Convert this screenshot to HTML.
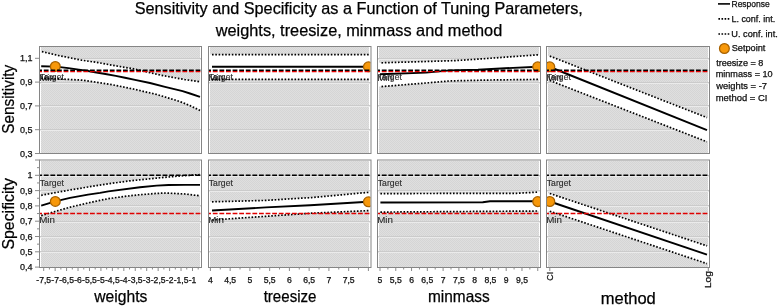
<!DOCTYPE html><html><head><meta charset="utf-8"><style>
html,body{margin:0;padding:0;background:#fff;width:778px;height:307px;overflow:hidden}
svg{display:block;will-change:transform}
text{font-family:"Liberation Sans", sans-serif;stroke:#000;stroke-width:0.25px;paint-order:stroke}
</style></head><body>
<svg width="778" height="307" viewBox="0 0 778 307">
<defs><pattern id="hatch" width="2" height="2" patternUnits="userSpaceOnUse"><rect width="2" height="2" fill="#dfdfdf"/><rect width="1" height="1" fill="#d5d5d5"/><rect x="1" y="1" width="1" height="1" fill="#d5d5d5"/></pattern>
<clipPath id="cp00"><rect x="40" y="47" width="161" height="106"/></clipPath>
<clipPath id="cp01"><rect x="209" y="47" width="161.5" height="106"/></clipPath>
<clipPath id="cp02"><rect x="378" y="47" width="162" height="106"/></clipPath>
<clipPath id="cp03"><rect x="547" y="47" width="162" height="106"/></clipPath>
<clipPath id="cp10"><rect x="40" y="160.5" width="161" height="106.5"/></clipPath>
<clipPath id="cp11"><rect x="209" y="160.5" width="161.5" height="106.5"/></clipPath>
<clipPath id="cp12"><rect x="378" y="160.5" width="162" height="106.5"/></clipPath>
<clipPath id="cp13"><rect x="547" y="160.5" width="162" height="106.5"/></clipPath>
</defs>
<rect width="778" height="307" fill="#fff"/>
<text x="134.67" y="14.00" font-size="16.5" fill="#000" textLength="448.20" lengthAdjust="spacingAndGlyphs">Sensitivity and Specificity as a Function of Tuning Parameters,</text>
<text x="215.74" y="35.70" font-size="16.5" fill="#000" textLength="286.50" lengthAdjust="spacingAndGlyphs">weights, treesize, minmass and method</text>
<text transform="translate(13.70,133.79) rotate(-90)" font-size="16.5" fill="#000" textLength="69.01" lengthAdjust="spacingAndGlyphs">Sensitivity</text>
<text transform="translate(13.70,249.51) rotate(-90)" font-size="16.5" fill="#000" textLength="71.34" lengthAdjust="spacingAndGlyphs">Specificity</text>
<rect x="40" y="47" width="161" height="106" fill="#fff"/>
<rect x="41" y="47" width="159" height="106" fill="url(#hatch)"/>
<g clip-path="url(#cp00)">
<rect x="40" y="58" width="161" height="1" fill="#cbcbcb"/>
<rect x="40" y="59" width="161" height="1" fill="#ebebeb"/>
<rect x="40" y="82" width="161" height="1" fill="#cbcbcb"/>
<rect x="40" y="83" width="161" height="1" fill="#ebebeb"/>
<rect x="40" y="105" width="161" height="1" fill="#cbcbcb"/>
<rect x="40" y="106" width="161" height="1" fill="#ebebeb"/>
<rect x="40" y="129" width="161" height="1" fill="#cbcbcb"/>
<rect x="40" y="130" width="161" height="1" fill="#ebebeb"/>
<polygon points="40.00,51.60 41.90,51.60 58.00,55.40 81.60,60.20 98.00,62.60 110.00,64.80 120.70,66.70 131.50,68.40 140.00,70.30 150.10,72.70 160.00,75.00 170.00,76.90 185.00,79.60 200.00,81.80 201.00,81.80 201.00,110.50 200.00,110.50 190.00,105.60 182.60,102.60 176.00,100.30 165.00,97.00 156.90,94.50 145.00,91.80 135.00,89.40 125.00,87.30 112.60,84.80 95.00,82.00 81.60,80.10 58.00,78.90 41.20,78.40 40.00,78.40" fill="#fff"/>
<text x="39.81" y="80.40" font-size="9" fill="#2a2a2a" textLength="24.05" lengthAdjust="spacingAndGlyphs" style="stroke-width:0.1px">Target</text>
<text x="39.19" y="80.90" font-size="9" fill="#2a2a2a" textLength="15.73" lengthAdjust="spacingAndGlyphs" style="stroke-width:0.1px">Min</text>
<polyline points="41.90,51.60 58.00,55.40 81.60,60.20 98.00,62.60 110.00,64.80 120.70,66.70 131.50,68.40 140.00,70.30 150.10,72.70 160.00,75.00 170.00,76.90 185.00,79.60 200.00,81.80" fill="none" stroke="#000" stroke-width="1.7" stroke-dasharray="1.6 1.7"/>
<polyline points="41.20,78.40 58.00,78.90 81.60,80.10 95.00,82.00 112.60,84.80 125.00,87.30 135.00,89.40 145.00,91.80 156.90,94.50 165.00,97.00 176.00,100.30 182.60,102.60 190.00,105.60 200.00,110.50" fill="none" stroke="#000" stroke-width="1.7" stroke-dasharray="1.6 1.7"/>
<polyline points="41.20,66.20 55.30,66.60 60.10,67.10 68.40,68.10 78.80,69.60 88.00,71.00 95.00,72.30 105.40,74.00 115.80,75.90 125.00,77.70 135.00,79.90 150.00,83.00 165.00,86.80 182.60,91.20 190.00,93.50 200.00,96.80" fill="none" stroke="#000" stroke-width="1.9" stroke-linejoin="round"/>
<circle cx="55.3" cy="66.4" r="4.9" fill="#f7980a" stroke="#a86200" stroke-width="1.25"/>
<line x1="39.5" x2="201" y1="70.20" y2="70.20" stroke="#000" stroke-width="1.4" stroke-dasharray="4.8 1.8" stroke-dashoffset="2.3"/>
<line x1="39.5" x2="201" y1="71.60" y2="71.60" stroke="#e00000" stroke-width="1.4" stroke-dasharray="4.8 1.8" stroke-dashoffset="2.3"/>
</g>
<rect x="39.5" y="46.5" width="162" height="107" fill="none" stroke="#858585" stroke-width="1"/>
<rect x="209" y="47" width="161.5" height="106" fill="#fff"/>
<rect x="210" y="47" width="159" height="106" fill="url(#hatch)"/>
<g clip-path="url(#cp01)">
<rect x="209" y="58" width="161.5" height="1" fill="#cbcbcb"/>
<rect x="209" y="59" width="161.5" height="1" fill="#ebebeb"/>
<rect x="209" y="82" width="161.5" height="1" fill="#cbcbcb"/>
<rect x="209" y="83" width="161.5" height="1" fill="#ebebeb"/>
<rect x="209" y="105" width="161.5" height="1" fill="#cbcbcb"/>
<rect x="209" y="106" width="161.5" height="1" fill="#ebebeb"/>
<rect x="209" y="129" width="161.5" height="1" fill="#cbcbcb"/>
<rect x="209" y="130" width="161.5" height="1" fill="#ebebeb"/>
<polygon points="209.00,54.60 212.00,54.60 369.00,54.60 370.50,54.60 370.50,79.30 369.00,79.30 212.00,79.30 209.00,79.30" fill="#fff"/>
<text x="208.81" y="80.40" font-size="9" fill="#2a2a2a" textLength="24.05" lengthAdjust="spacingAndGlyphs" style="stroke-width:0.1px">Target</text>
<text x="208.19" y="80.90" font-size="9" fill="#2a2a2a" textLength="15.73" lengthAdjust="spacingAndGlyphs" style="stroke-width:0.1px">Min</text>
<polyline points="212.00,54.60 369.00,54.60" fill="none" stroke="#000" stroke-width="1.7" stroke-dasharray="1.6 1.7"/>
<polyline points="212.00,79.30 369.00,79.30" fill="none" stroke="#000" stroke-width="1.7" stroke-dasharray="1.6 1.7"/>
<polyline points="212.00,66.80 369.00,66.80" fill="none" stroke="#000" stroke-width="1.9" stroke-linejoin="round"/>
<circle cx="368.4" cy="66.8" r="4.9" fill="#f7980a" stroke="#a86200" stroke-width="1.25"/>
<line x1="208.5" x2="370.5" y1="70.20" y2="70.20" stroke="#000" stroke-width="1.4" stroke-dasharray="4.8 1.8" stroke-dashoffset="2.3"/>
<line x1="208.5" x2="370.5" y1="71.60" y2="71.60" stroke="#e00000" stroke-width="1.4" stroke-dasharray="4.8 1.8" stroke-dashoffset="2.3"/>
</g>
<rect x="208.5" y="46.5" width="162.5" height="107" fill="none" stroke="#858585" stroke-width="1"/>
<rect x="378" y="47" width="162" height="106" fill="#fff"/>
<rect x="379" y="47" width="160" height="106" fill="url(#hatch)"/>
<g clip-path="url(#cp02)">
<rect x="378" y="58" width="162" height="1" fill="#cbcbcb"/>
<rect x="378" y="59" width="162" height="1" fill="#ebebeb"/>
<rect x="378" y="82" width="162" height="1" fill="#cbcbcb"/>
<rect x="378" y="83" width="162" height="1" fill="#ebebeb"/>
<rect x="378" y="105" width="162" height="1" fill="#cbcbcb"/>
<rect x="378" y="106" width="162" height="1" fill="#ebebeb"/>
<rect x="378" y="129" width="162" height="1" fill="#cbcbcb"/>
<rect x="378" y="130" width="162" height="1" fill="#ebebeb"/>
<polygon points="378.00,62.80 381.50,62.80 426.00,61.50 455.00,60.60 480.00,59.00 538.00,54.80 540.00,54.80 540.00,79.40 538.00,79.40 490.00,80.00 450.00,80.90 426.00,83.00 381.50,86.60 378.00,86.60" fill="#fff"/>
<text x="377.81" y="80.40" font-size="9" fill="#2a2a2a" textLength="24.05" lengthAdjust="spacingAndGlyphs" style="stroke-width:0.1px">Target</text>
<text x="377.19" y="80.90" font-size="9" fill="#2a2a2a" textLength="15.73" lengthAdjust="spacingAndGlyphs" style="stroke-width:0.1px">Min</text>
<polyline points="381.50,62.80 426.00,61.50 455.00,60.60 480.00,59.00 538.00,54.80" fill="none" stroke="#000" stroke-width="1.7" stroke-dasharray="1.6 1.7"/>
<polyline points="381.50,86.60 426.00,83.00 450.00,80.90 490.00,80.00 538.00,79.40" fill="none" stroke="#000" stroke-width="1.7" stroke-dasharray="1.6 1.7"/>
<polyline points="380.00,74.30 426.00,72.60 450.00,70.40 478.00,69.70 505.00,68.30 538.00,66.80" fill="none" stroke="#000" stroke-width="1.9" stroke-linejoin="round"/>
<circle cx="537.7" cy="66.8" r="4.9" fill="#f7980a" stroke="#a86200" stroke-width="1.25"/>
<line x1="377.5" x2="540" y1="70.20" y2="70.20" stroke="#000" stroke-width="1.4" stroke-dasharray="4.8 1.8" stroke-dashoffset="2.3"/>
<line x1="377.5" x2="540" y1="71.60" y2="71.60" stroke="#e00000" stroke-width="1.4" stroke-dasharray="4.8 1.8" stroke-dashoffset="2.3"/>
</g>
<rect x="377.5" y="46.5" width="163" height="107" fill="none" stroke="#858585" stroke-width="1"/>
<rect x="547" y="47" width="162" height="106" fill="#fff"/>
<rect x="548" y="47" width="160" height="106" fill="url(#hatch)"/>
<g clip-path="url(#cp03)">
<rect x="547" y="58" width="162" height="1" fill="#cbcbcb"/>
<rect x="547" y="59" width="162" height="1" fill="#ebebeb"/>
<rect x="547" y="82" width="162" height="1" fill="#cbcbcb"/>
<rect x="547" y="83" width="162" height="1" fill="#ebebeb"/>
<rect x="547" y="105" width="162" height="1" fill="#cbcbcb"/>
<rect x="547" y="106" width="162" height="1" fill="#ebebeb"/>
<rect x="547" y="129" width="162" height="1" fill="#cbcbcb"/>
<rect x="547" y="130" width="162" height="1" fill="#ebebeb"/>
<polygon points="547.00,56.10 549.80,56.10 707.00,117.60 709.00,117.60 709.00,141.80 707.00,141.80 549.80,80.50 547.00,80.50" fill="#fff"/>
<text x="546.81" y="80.40" font-size="9" fill="#2a2a2a" textLength="24.05" lengthAdjust="spacingAndGlyphs" style="stroke-width:0.1px">Target</text>
<text x="546.19" y="80.90" font-size="9" fill="#2a2a2a" textLength="15.73" lengthAdjust="spacingAndGlyphs" style="stroke-width:0.1px">Min</text>
<polyline points="549.80,56.10 707.00,117.60" fill="none" stroke="#000" stroke-width="1.7" stroke-dasharray="1.6 1.7"/>
<polyline points="549.80,80.50 707.00,141.80" fill="none" stroke="#000" stroke-width="1.7" stroke-dasharray="1.6 1.7"/>
<polyline points="549.80,67.00 707.00,130.20" fill="none" stroke="#000" stroke-width="1.9" stroke-linejoin="round"/>
<circle cx="549.8" cy="66.8" r="4.9" fill="#f7980a" stroke="#a86200" stroke-width="1.25"/>
<line x1="546.5" x2="709" y1="70.20" y2="70.20" stroke="#000" stroke-width="1.4" stroke-dasharray="4.8 1.8" stroke-dashoffset="2.3"/>
<line x1="546.5" x2="709" y1="71.60" y2="71.60" stroke="#e00000" stroke-width="1.4" stroke-dasharray="4.8 1.8" stroke-dashoffset="2.3"/>
</g>
<rect x="546.5" y="46.5" width="163" height="107" fill="none" stroke="#858585" stroke-width="1"/>
<rect x="40" y="160.5" width="161" height="106.5" fill="#fff"/>
<rect x="41" y="161" width="159" height="106" fill="url(#hatch)"/>
<g clip-path="url(#cp10)">
<rect x="40" y="175" width="161" height="1" fill="#cbcbcb"/>
<rect x="40" y="176" width="161" height="1" fill="#ebebeb"/>
<rect x="40" y="190" width="161" height="1" fill="#cbcbcb"/>
<rect x="40" y="191" width="161" height="1" fill="#ebebeb"/>
<rect x="40" y="205" width="161" height="1" fill="#cbcbcb"/>
<rect x="40" y="206" width="161" height="1" fill="#ebebeb"/>
<rect x="40" y="221" width="161" height="1" fill="#cbcbcb"/>
<rect x="40" y="222" width="161" height="1" fill="#ebebeb"/>
<rect x="40" y="236" width="161" height="1" fill="#cbcbcb"/>
<rect x="40" y="237" width="161" height="1" fill="#ebebeb"/>
<rect x="40" y="251" width="161" height="1" fill="#cbcbcb"/>
<rect x="40" y="252" width="161" height="1" fill="#ebebeb"/>
<polygon points="40.00,195.30 41.20,195.30 55.00,192.70 70.00,190.00 88.00,187.00 108.30,183.80 130.00,180.80 156.60,178.10 180.70,175.90 200.00,174.60 201.00,174.60 201.00,195.80 200.00,195.80 185.00,194.00 166.00,193.00 156.60,193.40 140.00,194.70 125.00,196.30 108.30,198.70 100.00,200.30 88.00,203.00 70.00,207.20 55.00,211.50 41.20,215.60 40.00,215.60" fill="#fff"/>
<text x="39.81" y="185.50" font-size="9" fill="#2a2a2a" textLength="24.05" lengthAdjust="spacingAndGlyphs" style="stroke-width:0.1px">Target</text>
<text x="39.19" y="222.85" font-size="9" fill="#2a2a2a" textLength="15.73" lengthAdjust="spacingAndGlyphs" style="stroke-width:0.1px">Min</text>
<polyline points="41.20,195.30 55.00,192.70 70.00,190.00 88.00,187.00 108.30,183.80 130.00,180.80 156.60,178.10 180.70,175.90 200.00,174.60" fill="none" stroke="#000" stroke-width="1.7" stroke-dasharray="1.6 1.7"/>
<polyline points="41.20,215.60 55.00,211.50 70.00,207.20 88.00,203.00 100.00,200.30 108.30,198.70 125.00,196.30 140.00,194.70 156.60,193.40 166.00,193.00 185.00,194.00 200.00,195.80" fill="none" stroke="#000" stroke-width="1.7" stroke-dasharray="1.6 1.7"/>
<polyline points="41.20,205.60 55.30,201.40 70.00,197.90 88.00,194.60 100.00,192.90 108.30,191.40 140.00,187.30 156.60,185.60 168.60,185.00 185.00,184.90 200.00,184.90" fill="none" stroke="#000" stroke-width="1.9" stroke-linejoin="round"/>
<circle cx="55.3" cy="201.4" r="4.9" fill="#f7980a" stroke="#a86200" stroke-width="1.25"/>
<line x1="39.5" x2="201" y1="175.30" y2="175.30" stroke="#000" stroke-width="1.4" stroke-dasharray="4.8 1.8" stroke-dashoffset="2.3"/>
<line x1="39.5" x2="201" y1="213.55" y2="213.55" stroke="#e00000" stroke-width="1.4" stroke-dasharray="4.8 1.8" stroke-dashoffset="2.3"/>
</g>
<rect x="39.5" y="160.0" width="162" height="107.5" fill="none" stroke="#858585" stroke-width="1"/>
<rect x="209" y="160.5" width="161.5" height="106.5" fill="#fff"/>
<rect x="210" y="161" width="159" height="106" fill="url(#hatch)"/>
<g clip-path="url(#cp11)">
<rect x="209" y="175" width="161.5" height="1" fill="#cbcbcb"/>
<rect x="209" y="176" width="161.5" height="1" fill="#ebebeb"/>
<rect x="209" y="190" width="161.5" height="1" fill="#cbcbcb"/>
<rect x="209" y="191" width="161.5" height="1" fill="#ebebeb"/>
<rect x="209" y="205" width="161.5" height="1" fill="#cbcbcb"/>
<rect x="209" y="206" width="161.5" height="1" fill="#ebebeb"/>
<rect x="209" y="221" width="161.5" height="1" fill="#cbcbcb"/>
<rect x="209" y="222" width="161.5" height="1" fill="#ebebeb"/>
<rect x="209" y="236" width="161.5" height="1" fill="#cbcbcb"/>
<rect x="209" y="237" width="161.5" height="1" fill="#ebebeb"/>
<rect x="209" y="251" width="161.5" height="1" fill="#cbcbcb"/>
<rect x="209" y="252" width="161.5" height="1" fill="#ebebeb"/>
<polygon points="209.00,201.80 212.00,201.80 266.00,200.40 289.40,198.90 311.50,197.60 369.00,192.30 370.50,192.30 370.50,210.60 369.00,210.60 311.50,213.20 266.00,216.30 212.00,220.00 209.00,220.00" fill="#fff"/>
<text x="208.81" y="185.50" font-size="9" fill="#2a2a2a" textLength="24.05" lengthAdjust="spacingAndGlyphs" style="stroke-width:0.1px">Target</text>
<text x="208.19" y="222.85" font-size="9" fill="#2a2a2a" textLength="15.73" lengthAdjust="spacingAndGlyphs" style="stroke-width:0.1px">Min</text>
<polyline points="212.00,201.80 266.00,200.40 289.40,198.90 311.50,197.60 369.00,192.30" fill="none" stroke="#000" stroke-width="1.7" stroke-dasharray="1.6 1.7"/>
<polyline points="212.00,220.00 266.00,216.30 311.50,213.20 369.00,210.60" fill="none" stroke="#000" stroke-width="1.7" stroke-dasharray="1.6 1.7"/>
<polyline points="212.00,210.50 266.00,207.40 310.00,205.20 368.00,201.80" fill="none" stroke="#000" stroke-width="1.9" stroke-linejoin="round"/>
<circle cx="368.4" cy="201.8" r="4.9" fill="#f7980a" stroke="#a86200" stroke-width="1.25"/>
<line x1="208.5" x2="370.5" y1="175.30" y2="175.30" stroke="#000" stroke-width="1.4" stroke-dasharray="4.8 1.8" stroke-dashoffset="2.3"/>
<line x1="208.5" x2="370.5" y1="213.55" y2="213.55" stroke="#e00000" stroke-width="1.4" stroke-dasharray="4.8 1.8" stroke-dashoffset="2.3"/>
</g>
<rect x="208.5" y="160.0" width="162.5" height="107.5" fill="none" stroke="#858585" stroke-width="1"/>
<rect x="378" y="160.5" width="162" height="106.5" fill="#fff"/>
<rect x="379" y="161" width="160" height="106" fill="url(#hatch)"/>
<g clip-path="url(#cp12)">
<rect x="378" y="175" width="162" height="1" fill="#cbcbcb"/>
<rect x="378" y="176" width="162" height="1" fill="#ebebeb"/>
<rect x="378" y="190" width="162" height="1" fill="#cbcbcb"/>
<rect x="378" y="191" width="162" height="1" fill="#ebebeb"/>
<rect x="378" y="205" width="162" height="1" fill="#cbcbcb"/>
<rect x="378" y="206" width="162" height="1" fill="#ebebeb"/>
<rect x="378" y="221" width="162" height="1" fill="#cbcbcb"/>
<rect x="378" y="222" width="162" height="1" fill="#ebebeb"/>
<rect x="378" y="236" width="162" height="1" fill="#cbcbcb"/>
<rect x="378" y="237" width="162" height="1" fill="#ebebeb"/>
<rect x="378" y="251" width="162" height="1" fill="#cbcbcb"/>
<rect x="378" y="252" width="162" height="1" fill="#ebebeb"/>
<polygon points="378.00,193.60 380.40,193.60 516.60,193.30 538.30,192.10 540.00,192.10 540.00,211.00 538.30,211.00 380.40,212.10 378.00,212.10" fill="#fff"/>
<text x="377.81" y="185.50" font-size="9" fill="#2a2a2a" textLength="24.05" lengthAdjust="spacingAndGlyphs" style="stroke-width:0.1px">Target</text>
<text x="377.19" y="222.85" font-size="9" fill="#2a2a2a" textLength="15.73" lengthAdjust="spacingAndGlyphs" style="stroke-width:0.1px">Min</text>
<polyline points="380.40,193.60 516.60,193.30 538.30,192.10" fill="none" stroke="#000" stroke-width="1.7" stroke-dasharray="1.6 1.7"/>
<polyline points="380.40,212.10 538.30,211.00" fill="none" stroke="#000" stroke-width="1.7" stroke-dasharray="1.6 1.7"/>
<polyline points="380.40,202.50 482.80,202.30 490.00,201.30 538.00,201.30" fill="none" stroke="#000" stroke-width="1.9" stroke-linejoin="round"/>
<circle cx="537.7" cy="201.6" r="4.9" fill="#f7980a" stroke="#a86200" stroke-width="1.25"/>
<line x1="377.5" x2="540" y1="175.30" y2="175.30" stroke="#000" stroke-width="1.4" stroke-dasharray="4.8 1.8" stroke-dashoffset="2.3"/>
<line x1="377.5" x2="540" y1="213.55" y2="213.55" stroke="#e00000" stroke-width="1.4" stroke-dasharray="4.8 1.8" stroke-dashoffset="2.3"/>
</g>
<rect x="377.5" y="160.0" width="163" height="107.5" fill="none" stroke="#858585" stroke-width="1"/>
<rect x="547" y="160.5" width="162" height="106.5" fill="#fff"/>
<rect x="548" y="161" width="160" height="106" fill="url(#hatch)"/>
<g clip-path="url(#cp13)">
<rect x="547" y="175" width="162" height="1" fill="#cbcbcb"/>
<rect x="547" y="176" width="162" height="1" fill="#ebebeb"/>
<rect x="547" y="190" width="162" height="1" fill="#cbcbcb"/>
<rect x="547" y="191" width="162" height="1" fill="#ebebeb"/>
<rect x="547" y="205" width="162" height="1" fill="#cbcbcb"/>
<rect x="547" y="206" width="162" height="1" fill="#ebebeb"/>
<rect x="547" y="221" width="162" height="1" fill="#cbcbcb"/>
<rect x="547" y="222" width="162" height="1" fill="#ebebeb"/>
<rect x="547" y="236" width="162" height="1" fill="#cbcbcb"/>
<rect x="547" y="237" width="162" height="1" fill="#ebebeb"/>
<rect x="547" y="251" width="162" height="1" fill="#cbcbcb"/>
<rect x="547" y="252" width="162" height="1" fill="#ebebeb"/>
<polygon points="547.00,193.50 549.80,193.50 707.00,245.90 709.00,245.90 709.00,263.60 707.00,263.60 549.80,211.20 547.00,211.20" fill="#fff"/>
<text x="546.81" y="185.50" font-size="9" fill="#2a2a2a" textLength="24.05" lengthAdjust="spacingAndGlyphs" style="stroke-width:0.1px">Target</text>
<text x="546.19" y="222.85" font-size="9" fill="#2a2a2a" textLength="15.73" lengthAdjust="spacingAndGlyphs" style="stroke-width:0.1px">Min</text>
<polyline points="549.80,193.50 707.00,245.90" fill="none" stroke="#000" stroke-width="1.7" stroke-dasharray="1.6 1.7"/>
<polyline points="549.80,211.20 707.00,263.60" fill="none" stroke="#000" stroke-width="1.7" stroke-dasharray="1.6 1.7"/>
<polyline points="549.80,201.50 707.00,254.70" fill="none" stroke="#000" stroke-width="1.9" stroke-linejoin="round"/>
<circle cx="549.8" cy="201.5" r="4.9" fill="#f7980a" stroke="#a86200" stroke-width="1.25"/>
<line x1="546.5" x2="709" y1="175.30" y2="175.30" stroke="#000" stroke-width="1.4" stroke-dasharray="4.8 1.8" stroke-dashoffset="2.3"/>
<line x1="546.5" x2="709" y1="213.55" y2="213.55" stroke="#e00000" stroke-width="1.4" stroke-dasharray="4.8 1.8" stroke-dashoffset="2.3"/>
</g>
<rect x="546.5" y="160.0" width="163" height="107.5" fill="none" stroke="#858585" stroke-width="1"/>
<line x1="35" x2="39.5" y1="58.30" y2="58.30" stroke="#8a8a8a" stroke-width="1"/>
<text x="32.5" y="61.40" font-size="9" text-anchor="end" fill="#111">1,1</text>
<line x1="35" x2="39.5" y1="82.10" y2="82.10" stroke="#8a8a8a" stroke-width="1"/>
<text x="32.5" y="85.20" font-size="9" text-anchor="end" fill="#111">0,9</text>
<line x1="35" x2="39.5" y1="105.90" y2="105.90" stroke="#8a8a8a" stroke-width="1"/>
<text x="32.5" y="109.00" font-size="9" text-anchor="end" fill="#111">0,7</text>
<line x1="35" x2="39.5" y1="129.70" y2="129.70" stroke="#8a8a8a" stroke-width="1"/>
<text x="32.5" y="132.80" font-size="9" text-anchor="end" fill="#111">0,5</text>
<line x1="35" x2="39.5" y1="153.50" y2="153.50" stroke="#8a8a8a" stroke-width="1"/>
<text x="32.5" y="156.60" font-size="9" text-anchor="end" fill="#111">0,3</text>
<line x1="35" x2="39.5" y1="160.00" y2="160.00" stroke="#8a8a8a" stroke-width="1"/>
<line x1="35" x2="39.5" y1="175.30" y2="175.30" stroke="#8a8a8a" stroke-width="1"/>
<text x="32.5" y="178.40" font-size="9" text-anchor="end" fill="#111">1</text>
<line x1="35" x2="39.5" y1="190.60" y2="190.60" stroke="#8a8a8a" stroke-width="1"/>
<text x="32.5" y="193.70" font-size="9" text-anchor="end" fill="#111">0,9</text>
<line x1="35" x2="39.5" y1="205.90" y2="205.90" stroke="#8a8a8a" stroke-width="1"/>
<text x="32.5" y="209.00" font-size="9" text-anchor="end" fill="#111">0,8</text>
<line x1="35" x2="39.5" y1="221.20" y2="221.20" stroke="#8a8a8a" stroke-width="1"/>
<text x="32.5" y="224.30" font-size="9" text-anchor="end" fill="#111">0,7</text>
<line x1="35" x2="39.5" y1="236.50" y2="236.50" stroke="#8a8a8a" stroke-width="1"/>
<text x="32.5" y="239.60" font-size="9" text-anchor="end" fill="#111">0,6</text>
<line x1="35" x2="39.5" y1="251.80" y2="251.80" stroke="#8a8a8a" stroke-width="1"/>
<text x="32.5" y="254.90" font-size="9" text-anchor="end" fill="#111">0,5</text>
<line x1="35" x2="39.5" y1="267.10" y2="267.10" stroke="#8a8a8a" stroke-width="1"/>
<text x="32.5" y="270.20" font-size="9" text-anchor="end" fill="#111">0,4</text>
<line x1="37" x2="39.5" y1="167.65" y2="167.65" stroke="#8a8a8a" stroke-width="1"/>
<line x1="37" x2="39.5" y1="182.95" y2="182.95" stroke="#8a8a8a" stroke-width="1"/>
<line x1="37" x2="39.5" y1="198.25" y2="198.25" stroke="#8a8a8a" stroke-width="1"/>
<line x1="37" x2="39.5" y1="213.55" y2="213.55" stroke="#8a8a8a" stroke-width="1"/>
<line x1="37" x2="39.5" y1="228.85" y2="228.85" stroke="#8a8a8a" stroke-width="1"/>
<line x1="37" x2="39.5" y1="244.15" y2="244.15" stroke="#8a8a8a" stroke-width="1"/>
<line x1="37" x2="39.5" y1="259.45" y2="259.45" stroke="#8a8a8a" stroke-width="1"/>
<line x1="43.70" x2="43.70" y1="267.5" y2="271.0" stroke="#8a8a8a" stroke-width="1"/>
<text x="43.70" y="282.8" font-size="8.6" text-anchor="middle" fill="#111">-7,5</text>
<line x1="49.42" x2="49.42" y1="267.5" y2="269.5" stroke="#8a8a8a" stroke-width="1"/>
<line x1="55.15" x2="55.15" y1="267.5" y2="271.0" stroke="#8a8a8a" stroke-width="1"/>
<text x="55.15" y="282.8" font-size="8.6" text-anchor="middle" fill="#111">-7</text>
<line x1="60.87" x2="60.87" y1="267.5" y2="269.5" stroke="#8a8a8a" stroke-width="1"/>
<line x1="66.59" x2="66.59" y1="267.5" y2="271.0" stroke="#8a8a8a" stroke-width="1"/>
<text x="66.59" y="282.8" font-size="8.6" text-anchor="middle" fill="#111">-6,5</text>
<line x1="72.31" x2="72.31" y1="267.5" y2="269.5" stroke="#8a8a8a" stroke-width="1"/>
<line x1="78.03" x2="78.03" y1="267.5" y2="271.0" stroke="#8a8a8a" stroke-width="1"/>
<text x="78.03" y="282.8" font-size="8.6" text-anchor="middle" fill="#111">-6</text>
<line x1="83.76" x2="83.76" y1="267.5" y2="269.5" stroke="#8a8a8a" stroke-width="1"/>
<line x1="89.48" x2="89.48" y1="267.5" y2="271.0" stroke="#8a8a8a" stroke-width="1"/>
<text x="89.48" y="282.8" font-size="8.6" text-anchor="middle" fill="#111">-5,5</text>
<line x1="95.20" x2="95.20" y1="267.5" y2="269.5" stroke="#8a8a8a" stroke-width="1"/>
<line x1="100.93" x2="100.93" y1="267.5" y2="271.0" stroke="#8a8a8a" stroke-width="1"/>
<text x="100.93" y="282.8" font-size="8.6" text-anchor="middle" fill="#111">-5</text>
<line x1="106.65" x2="106.65" y1="267.5" y2="269.5" stroke="#8a8a8a" stroke-width="1"/>
<line x1="112.37" x2="112.37" y1="267.5" y2="271.0" stroke="#8a8a8a" stroke-width="1"/>
<text x="112.37" y="282.8" font-size="8.6" text-anchor="middle" fill="#111">-4,5</text>
<line x1="118.09" x2="118.09" y1="267.5" y2="269.5" stroke="#8a8a8a" stroke-width="1"/>
<line x1="123.82" x2="123.82" y1="267.5" y2="271.0" stroke="#8a8a8a" stroke-width="1"/>
<text x="123.82" y="282.8" font-size="8.6" text-anchor="middle" fill="#111">-4</text>
<line x1="129.54" x2="129.54" y1="267.5" y2="269.5" stroke="#8a8a8a" stroke-width="1"/>
<line x1="135.26" x2="135.26" y1="267.5" y2="271.0" stroke="#8a8a8a" stroke-width="1"/>
<text x="135.26" y="282.8" font-size="8.6" text-anchor="middle" fill="#111">-3,5</text>
<line x1="140.98" x2="140.98" y1="267.5" y2="269.5" stroke="#8a8a8a" stroke-width="1"/>
<line x1="146.70" x2="146.70" y1="267.5" y2="271.0" stroke="#8a8a8a" stroke-width="1"/>
<text x="146.70" y="282.8" font-size="8.6" text-anchor="middle" fill="#111">-3</text>
<line x1="152.43" x2="152.43" y1="267.5" y2="269.5" stroke="#8a8a8a" stroke-width="1"/>
<line x1="158.15" x2="158.15" y1="267.5" y2="271.0" stroke="#8a8a8a" stroke-width="1"/>
<text x="158.15" y="282.8" font-size="8.6" text-anchor="middle" fill="#111">-2,5</text>
<line x1="163.87" x2="163.87" y1="267.5" y2="269.5" stroke="#8a8a8a" stroke-width="1"/>
<line x1="169.60" x2="169.60" y1="267.5" y2="271.0" stroke="#8a8a8a" stroke-width="1"/>
<text x="169.60" y="282.8" font-size="8.6" text-anchor="middle" fill="#111">-2</text>
<line x1="175.32" x2="175.32" y1="267.5" y2="269.5" stroke="#8a8a8a" stroke-width="1"/>
<line x1="181.04" x2="181.04" y1="267.5" y2="271.0" stroke="#8a8a8a" stroke-width="1"/>
<text x="181.04" y="282.8" font-size="8.6" text-anchor="middle" fill="#111">-1,5</text>
<line x1="186.76" x2="186.76" y1="267.5" y2="269.5" stroke="#8a8a8a" stroke-width="1"/>
<line x1="192.49" x2="192.49" y1="267.5" y2="271.0" stroke="#8a8a8a" stroke-width="1"/>
<text x="192.49" y="282.8" font-size="8.6" text-anchor="middle" fill="#111">-1</text>
<line x1="198.21" x2="198.21" y1="267.5" y2="269.5" stroke="#8a8a8a" stroke-width="1"/>
<line x1="210.40" x2="210.40" y1="267.5" y2="271.0" stroke="#8a8a8a" stroke-width="1"/>
<text x="210.40" y="282.8" font-size="8.6" text-anchor="middle" fill="#111">4</text>
<line x1="220.28" x2="220.28" y1="267.5" y2="269.5" stroke="#8a8a8a" stroke-width="1"/>
<line x1="230.15" x2="230.15" y1="267.5" y2="271.0" stroke="#8a8a8a" stroke-width="1"/>
<text x="230.15" y="282.8" font-size="8.6" text-anchor="middle" fill="#111">4,5</text>
<line x1="240.03" x2="240.03" y1="267.5" y2="269.5" stroke="#8a8a8a" stroke-width="1"/>
<line x1="249.90" x2="249.90" y1="267.5" y2="271.0" stroke="#8a8a8a" stroke-width="1"/>
<text x="249.90" y="282.8" font-size="8.6" text-anchor="middle" fill="#111">5</text>
<line x1="259.77" x2="259.77" y1="267.5" y2="269.5" stroke="#8a8a8a" stroke-width="1"/>
<line x1="269.65" x2="269.65" y1="267.5" y2="271.0" stroke="#8a8a8a" stroke-width="1"/>
<text x="269.65" y="282.8" font-size="8.6" text-anchor="middle" fill="#111">5,5</text>
<line x1="279.52" x2="279.52" y1="267.5" y2="269.5" stroke="#8a8a8a" stroke-width="1"/>
<line x1="289.40" x2="289.40" y1="267.5" y2="271.0" stroke="#8a8a8a" stroke-width="1"/>
<text x="289.40" y="282.8" font-size="8.6" text-anchor="middle" fill="#111">6</text>
<line x1="299.27" x2="299.27" y1="267.5" y2="269.5" stroke="#8a8a8a" stroke-width="1"/>
<line x1="309.15" x2="309.15" y1="267.5" y2="271.0" stroke="#8a8a8a" stroke-width="1"/>
<text x="309.15" y="282.8" font-size="8.6" text-anchor="middle" fill="#111">6,5</text>
<line x1="319.02" x2="319.02" y1="267.5" y2="269.5" stroke="#8a8a8a" stroke-width="1"/>
<line x1="328.90" x2="328.90" y1="267.5" y2="271.0" stroke="#8a8a8a" stroke-width="1"/>
<text x="328.90" y="282.8" font-size="8.6" text-anchor="middle" fill="#111">7</text>
<line x1="338.77" x2="338.77" y1="267.5" y2="269.5" stroke="#8a8a8a" stroke-width="1"/>
<line x1="348.65" x2="348.65" y1="267.5" y2="271.0" stroke="#8a8a8a" stroke-width="1"/>
<text x="348.65" y="282.8" font-size="8.6" text-anchor="middle" fill="#111">7,5</text>
<line x1="358.52" x2="358.52" y1="267.5" y2="269.5" stroke="#8a8a8a" stroke-width="1"/>
<line x1="368.40" x2="368.40" y1="267.5" y2="271.0" stroke="#8a8a8a" stroke-width="1"/>
<line x1="380.00" x2="380.00" y1="267.5" y2="271.0" stroke="#8a8a8a" stroke-width="1"/>
<text x="380.00" y="282.8" font-size="8.6" text-anchor="middle" fill="#111">5</text>
<line x1="387.89" x2="387.89" y1="267.5" y2="269.5" stroke="#8a8a8a" stroke-width="1"/>
<line x1="395.77" x2="395.77" y1="267.5" y2="271.0" stroke="#8a8a8a" stroke-width="1"/>
<text x="395.77" y="282.8" font-size="8.6" text-anchor="middle" fill="#111">5,5</text>
<line x1="403.66" x2="403.66" y1="267.5" y2="269.5" stroke="#8a8a8a" stroke-width="1"/>
<line x1="411.55" x2="411.55" y1="267.5" y2="271.0" stroke="#8a8a8a" stroke-width="1"/>
<text x="411.55" y="282.8" font-size="8.6" text-anchor="middle" fill="#111">6</text>
<line x1="419.44" x2="419.44" y1="267.5" y2="269.5" stroke="#8a8a8a" stroke-width="1"/>
<line x1="427.32" x2="427.32" y1="267.5" y2="271.0" stroke="#8a8a8a" stroke-width="1"/>
<text x="427.32" y="282.8" font-size="8.6" text-anchor="middle" fill="#111">6,5</text>
<line x1="435.21" x2="435.21" y1="267.5" y2="269.5" stroke="#8a8a8a" stroke-width="1"/>
<line x1="443.10" x2="443.10" y1="267.5" y2="271.0" stroke="#8a8a8a" stroke-width="1"/>
<text x="443.10" y="282.8" font-size="8.6" text-anchor="middle" fill="#111">7</text>
<line x1="450.99" x2="450.99" y1="267.5" y2="269.5" stroke="#8a8a8a" stroke-width="1"/>
<line x1="458.88" x2="458.88" y1="267.5" y2="271.0" stroke="#8a8a8a" stroke-width="1"/>
<text x="458.88" y="282.8" font-size="8.6" text-anchor="middle" fill="#111">7,5</text>
<line x1="466.76" x2="466.76" y1="267.5" y2="269.5" stroke="#8a8a8a" stroke-width="1"/>
<line x1="474.65" x2="474.65" y1="267.5" y2="271.0" stroke="#8a8a8a" stroke-width="1"/>
<text x="474.65" y="282.8" font-size="8.6" text-anchor="middle" fill="#111">8</text>
<line x1="482.54" x2="482.54" y1="267.5" y2="269.5" stroke="#8a8a8a" stroke-width="1"/>
<line x1="490.43" x2="490.43" y1="267.5" y2="271.0" stroke="#8a8a8a" stroke-width="1"/>
<text x="490.43" y="282.8" font-size="8.6" text-anchor="middle" fill="#111">8,5</text>
<line x1="498.31" x2="498.31" y1="267.5" y2="269.5" stroke="#8a8a8a" stroke-width="1"/>
<line x1="506.20" x2="506.20" y1="267.5" y2="271.0" stroke="#8a8a8a" stroke-width="1"/>
<text x="506.20" y="282.8" font-size="8.6" text-anchor="middle" fill="#111">9</text>
<line x1="514.09" x2="514.09" y1="267.5" y2="269.5" stroke="#8a8a8a" stroke-width="1"/>
<line x1="521.98" x2="521.98" y1="267.5" y2="271.0" stroke="#8a8a8a" stroke-width="1"/>
<text x="521.98" y="282.8" font-size="8.6" text-anchor="middle" fill="#111">9,5</text>
<line x1="529.86" x2="529.86" y1="267.5" y2="269.5" stroke="#8a8a8a" stroke-width="1"/>
<line x1="537.75" x2="537.75" y1="267.5" y2="271.0" stroke="#8a8a8a" stroke-width="1"/>
<line x1="549.80" x2="549.80" y1="267.5" y2="271.0" stroke="#8a8a8a" stroke-width="1"/>
<text transform="translate(552.90,280.74) rotate(-90)" font-size="8.8" fill="#111" textLength="8.86" lengthAdjust="spacingAndGlyphs">CI</text>
<line x1="708.30" x2="708.30" y1="267.5" y2="271.0" stroke="#8a8a8a" stroke-width="1"/>
<text transform="translate(711.40,288.04) rotate(-90)" font-size="8.8" fill="#111" textLength="16.99" lengthAdjust="spacingAndGlyphs">Log</text>
<text x="94.24" y="301.80" font-size="16.5" fill="#000" textLength="53.12" lengthAdjust="spacingAndGlyphs">weights</text>
<text x="263.67" y="301.70" font-size="16.5" fill="#000" textLength="52.79" lengthAdjust="spacingAndGlyphs">treesize</text>
<text x="427.96" y="301.70" font-size="16.5" fill="#000" textLength="61.69" lengthAdjust="spacingAndGlyphs">minmass</text>
<text x="600.68" y="304.40" font-size="16.5" fill="#000" textLength="55.16" lengthAdjust="spacingAndGlyphs">method</text>
<line x1="718" x2="730" y1="3.9" y2="3.9" stroke="#000" stroke-width="1.6"/>
<line x1="718.4" x2="730.4" y1="18.9" y2="18.9" stroke="#000" stroke-width="1.6" stroke-dasharray="1.6 1.5"/>
<line x1="718.4" x2="730.4" y1="34" y2="34" stroke="#000" stroke-width="1.6" stroke-dasharray="1.6 1.5"/>
<circle cx="724.4" cy="48.5" r="4.9" fill="#f7980a" stroke="#a86200" stroke-width="1.25"/>
<text x="731.50" y="6.90" font-size="8.9" fill="#111" textLength="38.27" lengthAdjust="spacingAndGlyphs">Response</text>
<text x="731.46" y="22.00" font-size="8.9" fill="#111" textLength="43.74" lengthAdjust="spacingAndGlyphs">L. conf. int.</text>
<text x="731.39" y="37.20" font-size="8.9" fill="#111" textLength="46.44" lengthAdjust="spacingAndGlyphs">U. conf. int.</text>
<text x="731.69" y="51.40" font-size="8.9" fill="#111" textLength="33.68" lengthAdjust="spacingAndGlyphs">Setpoint</text>
<text x="716.16" y="65.60" font-size="9.2" fill="#111" textLength="47.22" lengthAdjust="spacingAndGlyphs">treesize = 8</text>
<text x="715.69" y="77.30" font-size="9.2" fill="#111" textLength="56.96" lengthAdjust="spacingAndGlyphs">minmass = 10</text>
<text x="716.32" y="89.20" font-size="9.2" fill="#111" textLength="50.66" lengthAdjust="spacingAndGlyphs">weights = -7</text>
<text x="715.66" y="101.10" font-size="9.2" fill="#111" textLength="51.71" lengthAdjust="spacingAndGlyphs">method = CI</text>
</svg></body></html>
